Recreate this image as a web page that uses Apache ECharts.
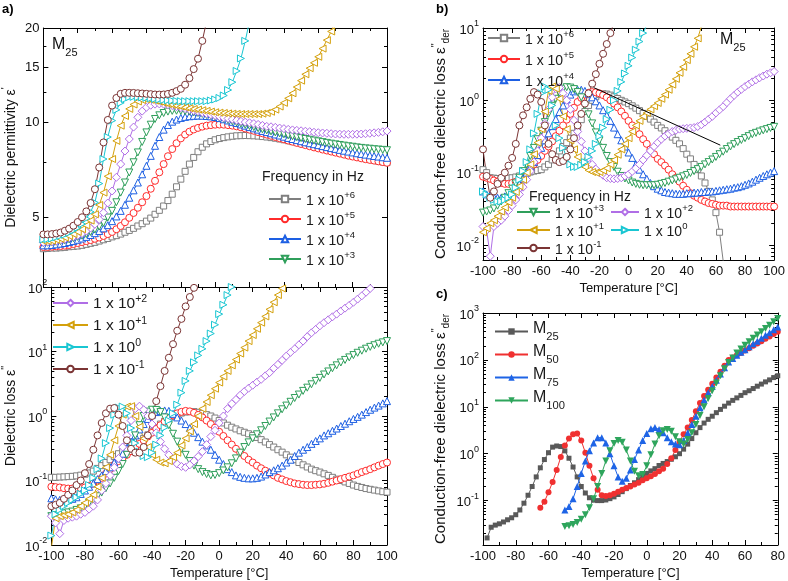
<!DOCTYPE html>
<html>
<head>
<meta charset="utf-8">
<script src="https://cdn.jsdelivr.net/npm/echarts@6/dist/echarts.min.js"></script>
<style>
html,body{margin:0;padding:0;background:#fff}
#chart{width:788px;height:581px}
</style>
</head>
<body>
<div id="chart"></div>
<script>
// temperature grid, deg C (measurement every 2.5 K)
var temps = [-100,-97.5,-95,-92.5,-90,-87.5,-85,-82.5,-80,-77.5,-75,-72.5,-70,-67.5,-65,-62.5,-60,-57.5,-55,-52.5,-50,-47.5,-45,-42.5,-40,-37.5,-35,-32.5,-30,-27.5,-25,-22.5,-20,-17.5,-15,-12.5,-10,-7.5,-5,-2.5,0,2.5,5,7.5,10,12.5,15,17.5,20,22.5,25,27.5,30,32.5,35,37.5,40,42.5,45,47.5,50,52.5,55,57.5,60,62.5,65,67.5,70,72.5,75,77.5,80,82.5,85,87.5,90,92.5,95,97.5,100];

// a) dielectric permittivity eps'
var permF6 = [3.97,3.98,3.99,3.99,4.0,4.01,4.03,4.04,4.05,4.07,4.1,4.13,4.16,4.2,4.24,4.28,4.33,4.37,4.42,4.48,4.54,4.61,4.69,4.77,4.86,4.97,5.11,5.26,5.43,5.65,5.92,6.25,6.61,7.0,7.38,7.75,8.08,8.35,8.56,8.71,8.82,8.9,8.96,9.01,9.05,9.08,9.09,9.1,9.09,9.08,9.06,9.03,9.0,8.96,8.92,8.87,8.82,8.76,8.7,8.64,8.58,8.52,8.46,8.4,8.34,8.28,8.22,8.16,8.1,8.04,7.97,7.91,7.85,7.8,7.74,7.68,7.63,7.58,7.54,7.5,7.46];
var permF5 = [4.02,4.02,4.03,4.04,4.05,4.06,4.08,4.11,4.14,4.17,4.2,4.23,4.27,4.31,4.36,4.42,4.49,4.58,4.69,4.82,4.98,5.16,5.36,5.58,5.84,6.16,6.53,6.95,7.38,7.82,8.24,8.6,8.91,9.16,9.36,9.51,9.62,9.71,9.78,9.82,9.85,9.86,9.85,9.82,9.78,9.73,9.66,9.58,9.5,9.42,9.33,9.25,9.16,9.08,9.0,8.92,8.85,8.77,8.7,8.62,8.55,8.48,8.41,8.34,8.28,8.21,8.15,8.09,8.03,7.97,7.91,7.85,7.8,7.75,7.7,7.65,7.61,7.57,7.53,7.49,7.45];
var permF4 = [4.07,4.07,4.08,4.1,4.12,4.14,4.17,4.2,4.24,4.28,4.33,4.39,4.45,4.52,4.61,4.72,4.86,5.03,5.24,5.48,5.77,6.09,6.45,6.85,7.29,7.84,8.44,9.0,9.5,9.83,10.07,10.23,10.35,10.43,10.48,10.51,10.53,10.52,10.5,10.47,10.42,10.34,10.25,10.16,10.06,9.97,9.87,9.78,9.68,9.59,9.5,9.41,9.33,9.25,9.17,9.1,9.02,8.94,8.87,8.8,8.73,8.66,8.6,8.54,8.48,8.42,8.36,8.3,8.25,8.19,8.14,8.09,8.04,7.99,7.95,7.91,7.87,7.83,7.8,7.76,7.73];
var permF3 = [4.14,4.15,4.16,4.18,4.2,4.22,4.25,4.29,4.33,4.37,4.42,4.49,4.57,4.67,4.8,4.99,5.24,5.58,5.99,6.45,6.94,7.48,8.04,8.68,9.31,9.85,10.27,10.55,10.73,10.84,10.9,10.91,10.9,10.88,10.84,10.79,10.73,10.66,10.58,10.52,10.45,10.37,10.28,10.19,10.1,10.01,9.93,9.84,9.76,9.68,9.6,9.52,9.45,9.38,9.31,9.24,9.18,9.11,9.05,8.99,8.93,8.87,8.82,8.77,8.72,8.67,8.62,8.57,8.53,8.49,8.45,8.41,8.38,8.34,8.31,8.28,8.26,8.23,8.21,8.19,8.17];
var permF2 = [4.16,4.17,4.18,4.2,4.23,4.26,4.3,4.34,4.38,4.44,4.52,4.62,4.75,4.92,5.17,5.55,6.06,6.7,7.38,8.12,8.87,9.68,10.4,10.88,11.19,11.36,11.45,11.47,11.45,11.4,11.33,11.25,11.16,11.08,11.0,10.92,10.84,10.76,10.68,10.6,10.53,10.45,10.37,10.31,10.25,10.17,10.1,10.04,9.99,9.93,9.87,9.8,9.73,9.7,9.66,9.61,9.57,9.52,9.48,9.45,9.42,9.39,9.36,9.32,9.29,9.27,9.25,9.22,9.2,9.19,9.18,9.18,9.18,9.19,9.2,9.22,9.25,9.28,9.31,9.35,9.4];
var permF1 = [4.2,4.2,4.21,4.24,4.27,4.31,4.36,4.42,4.49,4.58,4.71,4.88,5.11,5.47,5.99,6.75,7.66,8.75,9.78,10.5,11.06,11.42,11.67,11.8,11.85,11.82,11.75,11.66,11.56,11.47,11.39,11.32,11.26,11.18,11.11,11.05,11.0,10.95,10.9,10.84,10.79,10.76,10.73,10.7,10.68,10.66,10.65,10.65,10.65,10.65,10.65,10.68,10.73,10.83,11.0,11.25,11.56,11.95,12.4,12.98,13.6,14.25,14.9,15.5,16.2,17.2,18.3,19.5,21];
var permF0 = [4.25,4.26,4.28,4.32,4.36,4.4,4.46,4.54,4.63,4.76,4.95,5.2,5.57,6.4,7.66,9.0,10.15,10.98,11.56,11.88,12.05,12.08,12.05,12.03,12.0,11.95,11.9,11.85,11.8,11.77,11.75,11.72,11.7,11.7,11.7,11.7,11.7,11.7,11.7,11.76,11.85,11.98,12.2,12.7,13.45,14.6,16.0,18.2,21];
var permFm1 = [4.41,4.41,4.42,4.44,4.47,4.53,4.6,4.7,4.83,5.0,5.22,5.55,6.14,7.2,8.65,10.2,11.33,11.98,12.35,12.44,12.44,12.43,12.4,12.38,12.35,12.32,12.29,12.28,12.29,12.34,12.44,12.6,12.81,13.2,13.85,14.8,15.97,18.2,21];

// a) dielectric loss eps''
var lossF6 = [0.112,0.112,0.113,0.114,0.115,0.116,0.118,0.121,0.125,0.131,0.14,0.154,0.17,0.19,0.21,0.235,0.26,0.285,0.31,0.335,0.36,0.4,0.45,0.51,0.58,0.66,0.75,0.83,0.92,0.99,1.05,1.11,1.15,1.17,1.17,1.14,1.1,1.05,1.0,0.93,0.85,0.78,0.72,0.67,0.63,0.59,0.56,0.53,0.5,0.465,0.43,0.395,0.36,0.33,0.3,0.275,0.25,0.23,0.21,0.19,0.175,0.162,0.15,0.142,0.135,0.127,0.12,0.112,0.105,0.1,0.095,0.09,0.085,0.081,0.078,0.075,0.073,0.071,0.069,0.067,0.066];
var lossF5 = [0.08,0.079,0.078,0.076,0.075,0.075,0.075,0.076,0.078,0.083,0.09,0.1,0.11,0.128,0.15,0.175,0.2,0.225,0.25,0.285,0.32,0.37,0.42,0.48,0.55,0.63,0.72,0.82,0.92,1.02,1.1,1.16,1.2,1.18,1.12,1.04,0.95,0.85,0.75,0.66,0.57,0.49,0.42,0.36,0.31,0.27,0.24,0.21,0.19,0.17,0.155,0.142,0.13,0.12,0.11,0.104,0.098,0.094,0.09,0.088,0.086,0.085,0.085,0.086,0.087,0.089,0.092,0.096,0.1,0.105,0.11,0.115,0.12,0.127,0.135,0.142,0.15,0.16,0.17,0.18,0.19];
var lossF4 = [0.053,0.051,0.05,0.05,0.05,0.052,0.055,0.062,0.07,0.08,0.09,0.105,0.12,0.14,0.16,0.19,0.22,0.26,0.32,0.4,0.5,0.62,0.75,0.9,1.05,1.15,1.2,1.22,1.2,1.08,0.95,0.85,0.75,0.65,0.55,0.47,0.4,0.35,0.3,0.25,0.21,0.18,0.15,0.135,0.12,0.114,0.11,0.108,0.108,0.11,0.115,0.124,0.135,0.144,0.155,0.17,0.19,0.21,0.24,0.27,0.3,0.33,0.37,0.41,0.45,0.5,0.54,0.59,0.64,0.7,0.76,0.83,0.9,0.97,1.05,1.15,1.25,1.35,1.45,1.57,1.7];
var lossF3 = [0.028,0.029,0.03,0.031,0.032,0.033,0.035,0.037,0.04,0.045,0.05,0.057,0.065,0.076,0.09,0.11,0.14,0.18,0.25,0.35,0.5,0.72,1.0,1.17,1.25,1.24,1.15,0.95,0.72,0.53,0.4,0.31,0.25,0.2,0.17,0.15,0.135,0.126,0.12,0.122,0.13,0.143,0.16,0.185,0.22,0.27,0.33,0.39,0.45,0.52,0.6,0.7,0.82,0.95,1.1,1.27,1.45,1.66,1.9,2.15,2.45,2.75,3.1,3.5,3.9,4.4,4.9,5.5,6.1,6.75,7.4,8.1,8.8,9.55,10.3,11.05,11.8,12.5,13.2,13.85,14.5];
var lossF2 = [0.028,0.022,0.015,0.024,0.026,0.027,0.028,0.03,0.032,0.036,0.04,0.05,0.07,0.09,0.12,0.16,0.22,0.33,0.5,0.85,1.3,1.42,1.25,1.0,0.75,0.55,0.4,0.31,0.25,0.21,0.18,0.165,0.16,0.175,0.2,0.235,0.28,0.36,0.48,0.6,0.78,1.0,1.3,1.55,1.8,2.1,2.4,2.7,3.0,3.35,3.7,4.2,4.7,5.5,6.3,7.3,8.5,9.7,11,12.7,14.5,17,19.5,22,25,28,31,34.5,38,42.5,47,52,58,65,73,83,95,110,125,142,160];
var lossF1 = [0.009,0.026,0.028,0.029,0.03,0.032,0.035,0.04,0.045,0.052,0.06,0.08,0.11,0.16,0.25,0.42,0.7,1.05,1.4,1.42,1.0,0.68,0.45,0.33,0.25,0.21,0.19,0.185,0.2,0.23,0.27,0.35,0.45,0.58,0.75,1.0,1.3,1.65,2.1,2.65,3.3,4.1,5,6.1,7.5,9.3,11.5,14.5,18,22.5,28,35,45,58,75,95,120];
var lossF0 = [0.014,0.03,0.035,0.04,0.045,0.05,0.055,0.062,0.07,0.085,0.11,0.15,0.22,0.38,0.65,1.05,1.35,1.4,1.1,0.65,0.38,0.28,0.24,0.23,0.27,0.36,0.5,0.66,0.85,1.1,1.5,2.3,3.5,5.0,6.8,8.7,11,14.5,19,26,38,53,75,100,130];
var lossFm1 = [0.04,0.042,0.045,0.052,0.06,0.07,0.085,0.1,0.13,0.18,0.3,0.5,0.78,1.1,1.3,1.33,1.05,0.7,0.42,0.31,0.27,0.27,0.33,0.5,1.0,1.7,2.9,5.0,8,13,21,32,50,70,97,135,180];

// b) conduction-free dielectric loss of M25
var derF6 = [0.11,0.1,0.085,0.084,0.083,0.083,0.083,0.084,0.085,0.087,0.09,0.095,0.1,0.102,0.105,0.107,0.11,0.12,0.13,0.15,0.17,0.2,0.23,0.26,0.3,0.35,0.42,0.54,0.7,0.85,1.0,1.12,1.2,1.23,1.22,1.18,1.12,1.06,1.0,0.95,0.9,0.84,0.78,0.72,0.66,0.6,0.55,0.5,0.45,0.415,0.38,0.345,0.31,0.28,0.25,0.215,0.18,0.155,0.13,0.11,0.09,0.072,0.055,0.042,0.028,0.015,0.006];
var derF5 = [0.088,0.085,0.082,0.078,0.075,0.072,0.07,0.07,0.072,0.075,0.08,0.09,0.1,0.115,0.13,0.15,0.17,0.2,0.23,0.27,0.32,0.38,0.45,0.54,0.65,0.79,0.95,1.08,1.2,1.27,1.3,1.29,1.25,1.18,1.1,1.0,0.9,0.8,0.7,0.61,0.52,0.45,0.39,0.34,0.29,0.25,0.21,0.18,0.155,0.14,0.125,0.11,0.095,0.085,0.075,0.066,0.058,0.052,0.048,0.045,0.042,0.04,0.038,0.037,0.036,0.035,0.035,0.035,0.034,0.034,0.034,0.034,0.034,0.034,0.034,0.034,0.034,0.034,0.034,0.034,0.034];
var derF4 = [0.055,0.05,0.048,0.046,0.045,0.045,0.047,0.05,0.055,0.062,0.07,0.083,0.1,0.12,0.14,0.175,0.22,0.28,0.35,0.44,0.55,0.69,0.85,1.03,1.2,1.33,1.4,1.4,1.35,1.24,1.1,0.97,0.85,0.73,0.62,0.52,0.42,0.34,0.28,0.23,0.19,0.16,0.13,0.11,0.095,0.082,0.072,0.065,0.06,0.057,0.054,0.053,0.052,0.051,0.051,0.051,0.052,0.052,0.053,0.053,0.054,0.054,0.055,0.055,0.056,0.057,0.058,0.059,0.06,0.062,0.063,0.065,0.068,0.071,0.075,0.08,0.085,0.09,0.095,0.1,0.105];
var derF3 = [0.028,0.029,0.03,0.032,0.035,0.04,0.045,0.052,0.06,0.071,0.085,0.105,0.13,0.17,0.22,0.29,0.38,0.5,0.65,0.84,1.05,1.27,1.45,1.52,1.5,1.43,1.3,1.1,0.85,0.64,0.48,0.36,0.28,0.22,0.17,0.14,0.12,0.103,0.09,0.083,0.078,0.073,0.07,0.068,0.067,0.067,0.067,0.067,0.068,0.07,0.072,0.075,0.078,0.081,0.085,0.089,0.093,0.099,0.105,0.112,0.12,0.13,0.14,0.152,0.165,0.18,0.195,0.212,0.23,0.248,0.265,0.283,0.3,0.32,0.34,0.355,0.37,0.385,0.4,0.415,0.43];
var derF2 = [0.018,0.016,0.007,0.018,0.02,0.022,0.025,0.03,0.035,0.042,0.05,0.063,0.08,0.105,0.14,0.2,0.3,0.48,0.75,1.1,1.45,1.5,1.25,1.0,0.75,0.53,0.37,0.27,0.2,0.16,0.13,0.112,0.1,0.092,0.085,0.083,0.082,0.083,0.085,0.09,0.095,0.104,0.115,0.13,0.15,0.173,0.2,0.23,0.26,0.29,0.32,0.345,0.37,0.385,0.4,0.405,0.41,0.415,0.42,0.435,0.46,0.5,0.55,0.6,0.67,0.74,0.82,0.93,1.05,1.17,1.3,1.42,1.55,1.67,1.8,1.92,2.05,2.17,2.3,2.4,2.5];
var derF1 = [0.015,0.017,0.02,0.022,0.025,0.029,0.033,0.039,0.045,0.054,0.065,0.08,0.1,0.13,0.18,0.26,0.4,0.7,1.35,1.55,1.45,1.05,0.6,0.4,0.28,0.21,0.165,0.14,0.12,0.108,0.102,0.1,0.102,0.107,0.115,0.13,0.15,0.177,0.21,0.25,0.3,0.37,0.45,0.52,0.6,0.67,0.75,0.83,0.92,1.05,1.2,1.4,1.65,1.98,2.4,2.9,3.6,4.4,5.5,7.2,10.5];
var derF0 = [0.055,0.05,0.045,0.042,0.04,0.04,0.042,0.045,0.05,0.062,0.08,0.105,0.14,0.21,0.35,0.65,1.25,1.55,1.4,0.85,0.45,0.3,0.22,0.16,0.13,0.12,0.12,0.128,0.14,0.165,0.2,0.25,0.32,0.42,0.55,0.74,1.0,1.35,1.8,2.35,3.0,3.9,5,6.5,8.5,11,14];
var derFm1 = [0.21,0.09,0.045,0.055,0.07,0.085,0.1,0.125,0.16,0.25,0.45,0.62,0.8,1.05,1.3,1.2,0.95,0.45,0.25,0.18,0.15,0.14,0.145,0.165,0.21,0.3,0.45,0.65,0.9,1.25,1.7,2.3,3.2,4.4,6.0,8.5,12];

// c) conduction-free dielectric loss of the four samples
var m25 = [0.016,0.027,0.03,0.032,0.035,0.039,0.043,0.05,0.063,0.088,0.13,0.2,0.32,0.5,0.75,1.05,1.38,1.46,1.42,1.15,0.8,0.52,0.32,0.2,0.145,0.115,0.102,0.1,0.1,0.103,0.11,0.12,0.135,0.155,0.18,0.21,0.24,0.28,0.33,0.38,0.43,0.48,0.56,0.62,0.68,0.76,0.86,1.0,1.25,1.6,2.1,2.8,3.6,4.5,5.4,6.3,7.5,8.8,10.3,12,13.7,15.5,17.5,20,22,24.5,27.5,30.5,34,37.5,42,46];
var m50 = [0.07,0.095,0.15,0.25,0.45,0.85,1.5,2.1,2.6,2.7,1.9,1.05,0.55,0.3,0.17,0.13,0.125,0.13,0.14,0.155,0.17,0.185,0.2,0.22,0.24,0.27,0.3,0.33,0.37,0.42,0.48,0.6,0.8,1.2,1.8,2.6,3.6,5.2,8,12,17,23,31,42,56,75,100,112,126,141,158,178,200,224,250,282,316,355,400];
var m75 = [0.063,0.075,0.11,0.2,0.38,0.7,1.15,1.7,2.2,2.2,1.7,1.0,0.55,0.32,0.26,0.3,0.45,0.75,1.2,1.9,2.7,3.4,3.6,3.3,2.8,2.2,1.8,1.6,1.55,1.9,2.8,4.2,6.3,9.5,14,20,27,37,50,68,90,107,125,145,165,190,220,250,290,335,380,440,500];
var m100 = [0.028,0.029,0.031,0.034,0.04,0.05,0.07,0.11,0.2,0.38,0.7,1.15,1.65,1.9,1.75,1.2,0.7,0.42,0.34,0.36,0.55,0.95,1.6,2.4,3.1,3.3,3.0,2.3,1.8,1.6,2.0,2.8,4.2,6.5,10,15,22,32,46,65,88,110,140,170,205,245,290,340,400,470,550,650,760];

var FONT = '"Liberation Sans", Arial, Helvetica, sans-serif';
var STYLE = {
  f6:  {color:'#7f7f7f', symbol:'rect', rotate:0, size:6},
  f5:  {color:'#ff2b2b', symbol:'circle', rotate:0, size:7},
  f4:  {color:'#1d5fe3', symbol:'triangle', rotate:0, size:7},
  f3:  {color:'#2f9f5b', symbol:'triangle', rotate:180, size:7},
  f2:  {color:'#b06ee6', symbol:'diamond', rotate:0, size:8},
  f1:  {color:'#d4a00b', symbol:'triangle', rotate:90, size:7},
  f0:  {color:'#19c6d2', symbol:'triangle', rotate:-90, size:7},
  fm1: {color:'#7b3434', symbol:'circle', rotate:0, size:7},
  M25: {color:'#595959', symbol:'rect', rotate:0, size:5},
  M50: {color:'#f03030', symbol:'circle', rotate:0, size:6},
  M75: {color:'#1e64e6', symbol:'triangle', rotate:0, size:7},
  M100:{color:'#2ea55c', symbol:'triangle', rotate:180, size:7}
};
var LABELS = {
  f6:'{n|1 x 10}{s|+6}', f5:'{n|1 x 10}{s|+5}', f4:'{n|1 x 10}{s|+4}', f3:'{n|1 x 10}{s|+3}',
  f2:'{n|1 x 10}{s|+2}', f1:'{n|1 x 10}{s|+1}', f0:'{n|1 x 10}{s|0}', fm1:'{n|1 x 10}{s|-1}',
  M25:'{m|M}{b|25}', M50:'{m|M}{b|50}', M75:'{m|M}{b|75}', M100:'{m|M}{b|100}'
};

function pairs(xs, ys) {
  return ys.map(function (v, i) { return [xs[i], v]; });
}

function mkSeries(key, xs, ys, gi, filled) {
  var s = STYLE[key];
  return {
    name: key, type: 'line', xAxisIndex: gi * 2, yAxisIndex: gi * 4,
    data: pairs(xs, ys),
    symbol: s.symbol, symbolSize: s.size, symbolRotate: s.rotate,
    lineStyle: {color: s.color, width: 1},
    itemStyle: filled ? {color: s.color} : {color: '#fff', borderColor: s.color, borderWidth: 1},
    emphasis: {disabled: true},
    clip: true
  };
}

function logMinors(min, max) {
  var out = [];
  for (var k = Math.floor(Math.log10(min)); k <= Math.ceil(Math.log10(max)); k++) {
    for (var m = 2; m <= 9; m++) {
      var v = m * Math.pow(10, k);
      if (v >= min && v <= max) out.push(v);
    }
  }
  return out;
}

function powLabel(v) {
  return '{n|10}{s|' + Math.round(Math.log10(v)) + '}';
}

var TICK_RICH = {
  n: {fontSize: 13, lineHeight: 17, verticalAlign: 'bottom', fontFamily: FONT, color: '#111'},
  s: {fontSize: 9, lineHeight: 9, verticalAlign: 'top', fontFamily: FONT, color: '#111'}
};
var NAME_RICH = {
  p: {fontSize: 10, lineHeight: 10, verticalAlign: 'top', fontFamily: FONT, color: '#111'},
  d: {fontSize: 10, lineHeight: 10, verticalAlign: 'bottom', fontFamily: FONT, color: '#111'}
};

function xAxes(gi, min, max, showLabel, name) {
  var list = [];
  ['bottom', 'top'].forEach(function (pos) {
    list.push({
      gridIndex: gi, type: 'value', min: min, max: max, interval: 20, position: pos,
      axisLine: {onZero: false, lineStyle: {color: '#000', width: 1}},
      axisTick: {inside: true, length: 5, lineStyle: {color: '#000'}},
      minorTick: {show: true, splitNumber: 2, length: 3, lineStyle: {color: '#000'}},
      splitLine: {show: false}, minorSplitLine: {show: false},
      axisLabel: {show: pos === 'bottom' && showLabel, fontSize: 13, color: '#111', margin: 5, fontFamily: FONT},
      name: pos === 'bottom' ? name : '', nameLocation: 'middle', nameGap: 22,
      nameTextStyle: {fontSize: 13, color: '#111', fontFamily: FONT}
    });
  });
  return list;
}

function yAxes(gi, min, max, majors, minors, fmt, name, gap, nameSize) {
  var list = [];
  ['left', 'right'].forEach(function (pos) {
    list.push({
      gridIndex: gi, type: 'log', logBase: 10, min: min, max: max, position: pos,
      axisLine: {onZero: false, lineStyle: {color: '#000', width: 1}},
      axisTick: {inside: true, length: 5, customValues: majors, lineStyle: {color: '#000'}},
      axisLabel: pos === 'left'
        ? {show: true, customValues: majors, formatter: fmt, fontSize: 13, color: '#111', margin: 4, fontFamily: FONT, rich: TICK_RICH}
        : {show: false},
      splitLine: {show: false}, minorTick: {show: false},
      name: pos === 'left' ? name : '', nameLocation: 'middle', nameRotate: 90, nameGap: gap,
      nameTextStyle: {fontSize: nameSize, color: '#111', fontFamily: FONT, lineHeight: 20, rich: NAME_RICH}
    });
    list.push({
      gridIndex: gi, type: 'log', logBase: 10, min: min, max: max, position: pos,
      axisLine: {show: false, onZero: false},
      axisTick: {inside: true, length: 3, customValues: minors, lineStyle: {color: '#000'}},
      axisLabel: {show: false}, splitLine: {show: false}
    });
  });
  return list;
}

function legend(keys, left, top, gap, itemW, fontSize) {
  return {
    data: keys, orient: 'vertical', left: left, top: top, padding: 0, itemGap: gap,
    itemWidth: itemW, itemHeight: 8, selectedMode: false,
    formatter: function (name) { return LABELS[name]; },
    textStyle: {
      fontSize: fontSize, color: '#1a1a1a', fontFamily: FONT,
      rich: {
        n: {fontSize: fontSize, lineHeight: 18, verticalAlign: 'bottom', fontFamily: FONT, color: '#1a1a1a'},
        s: {fontSize: fontSize * 0.68, lineHeight: 10, verticalAlign: 'top', fontFamily: FONT, color: '#1a1a1a'},
        m: {fontSize: fontSize, lineHeight: 21, verticalAlign: 'top', fontFamily: FONT, color: '#1a1a1a'},
        b: {fontSize: fontSize * 0.7, lineHeight: 11, verticalAlign: 'bottom', fontFamily: FONT, color: '#1a1a1a'}
      }
    }
  };
}

var keys = ['f6', 'f5', 'f4', 'f3', 'f2', 'f1', 'f0', 'fm1'];
var perm = [permF6, permF5, permF4, permF3, permF2, permF1, permF0, permFm1];
var loss = [lossF6, lossF5, lossF4, lossF3, lossF2, lossF1, lossF0, lossFm1];
var der = [derF6, derF5, derF4, derF3, derF2, derF1, derF0, derFm1];

var series = [];
keys.forEach(function (k, i) { series.push(mkSeries(k, temps, perm[i], 0, false)); });
keys.forEach(function (k, i) { series.push(mkSeries(k, temps, loss[i], 1, false)); });
keys.forEach(function (k, i) { series.push(mkSeries(k, temps, der[i], 2, false)); });
series.push(mkSeries('M25', temps.slice(temps.indexOf(-97.5)), m25, 3, true));
series.push(mkSeries('M50', temps.slice(temps.indexOf(-65)), m50, 3, true));
series.push(mkSeries('M75', temps.slice(temps.indexOf(-50)), m75, 3, true));
series.push(mkSeries('M100', temps.slice(temps.indexOf(-50)), m100, 3, true));

// arrow in panel b following the shifting loss peak
series[16].markLine = {
  silent: true, symbol: ['none', 'arrow'], symbolSize: [0, 9],
  lineStyle: {color: '#000', width: 1, type: 'solid'}, label: {show: false},
  emphasis: {disabled: true},
  data: [[{coord: [-24, 1.5]}, {coord: [63, 0.24]}]]
};

var myChart = echarts.init(document.getElementById('chart'));
var option = {
  animation: false,
  backgroundColor: '#fff',
  textStyle: {fontFamily: FONT},
  grid: [
    {left: 42, top: 28, width: 345, height: 259},
    {left: 42, top: 287, width: 345, height: 258},
    {left: 483, top: 28, width: 295, height: 232},
    {left: 483, top: 313, width: 295, height: 232}
  ],
  xAxis: [].concat(
    xAxes(0, -100, 100, false, ''),
    xAxes(1, -100, 100, true, 'Temperature [°C]'),
    xAxes(2, -100, 100, true, 'Temperature [°C]'),
    xAxes(3, -100, 80, true, 'Temperature [°C]')
  ),
  yAxis: [].concat(
    yAxes(0, 3, 20, [5, 10, 15, 20], [7.5, 12.5, 17.5], function (v) { return String(v); },
      "Dielectric permittivity ε{p|'}", 22, 14),
    yAxes(1, 0.01, 100, [0.01, 0.1, 1, 10, 100], logMinors(0.01, 100), powLabel,
      "Dielectric loss ε{p|''}", 24, 14),
    yAxes(2, 0.0062, 10, [0.01, 0.1, 1, 10], logMinors(0.0062, 10), powLabel,
      "Conduction-free dielectric loss ε{p|''}{d|der}", 32, 15),
    yAxes(3, 0.0113, 1000, [0.1, 1, 10, 100, 1000], logMinors(0.0113, 1000), powLabel,
      "Conduction-free dielectric loss ε{p|''}{d|der}", 32, 15)
  ),
  legend: [
    legend(['f6', 'f5', 'f4', 'f3'], 268, 190, 2, 32, 14),
    legend(['f2', 'f1', 'f0', 'fm1'], 52, 294, 4, 35, 15.5),
    legend(['f6', 'f5', 'f4'], 487, 29, 3, 32, 14),
    legend(['f3', 'f1', 'fm1'], 516, 203, 0, 33, 14),
    legend(['f2', 'f0'], 610, 203, 0, 28, 14),
    legend(['M25', 'M50', 'M75', 'M100'], 494, 321, 2, 33, 16)
  ],
  graphic: [
    {type: 'text', left: 2, top: 3, style: {text: 'a)', fontSize: 13, fontWeight: 'bold', fontFamily: FONT, fill: '#000'}},
    {type: 'text', left: 436, top: 3, style: {text: 'b)', fontSize: 13, fontWeight: 'bold', fontFamily: FONT, fill: '#000'}},
    {type: 'text', left: 436, top: 288, style: {text: 'c)', fontSize: 13, fontWeight: 'bold', fontFamily: FONT, fill: '#000'}},
    {type: 'text', left: 52, top: 37, style: {text: '{m|M}{b|25}', fill: '#111', rich: {
      m: {fontSize: 16, lineHeight: 21, verticalAlign: 'top', fontFamily: FONT},
      b: {fontSize: 11, lineHeight: 11, verticalAlign: 'bottom', fontFamily: FONT}}}},
    {type: 'text', left: 720, top: 32, style: {text: '{m|M}{b|25}', fill: '#111', rich: {
      m: {fontSize: 16, lineHeight: 21, verticalAlign: 'top', fontFamily: FONT},
      b: {fontSize: 11, lineHeight: 11, verticalAlign: 'bottom', fontFamily: FONT}}}},
    {type: 'text', left: 262, top: 170, style: {text: 'Frequency in Hz', fontSize: 14, fontFamily: FONT, fill: '#1a1a1a'}},
    {type: 'text', left: 529, top: 190, style: {text: 'Frequency in Hz', fontSize: 14, fontFamily: FONT, fill: '#1a1a1a'}}
  ],
  series: series
};
myChart.setOption(option);
</script>
</body>
</html>
